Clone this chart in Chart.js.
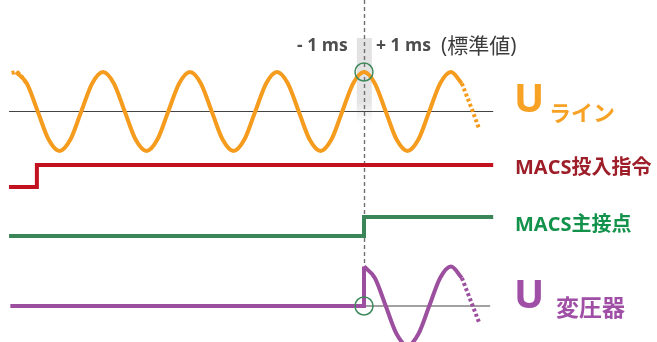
<!DOCTYPE html>
<html><head><meta charset="utf-8">
<script src="https://cdn.jsdelivr.net/npm/chart.js@4"></script>
<style>html,body{margin:0;padding:0;background:#fff;}canvas{display:block}</style>
</head><body>
<canvas id="c" width="657" height="342"></canvas>
<script>
// ---------- DATA (time in ms, 0 = closing instant; amplitudes normalised) ----------
const uLineT = [-80,-77.5,-75,-72.5,-70,-67.5,-65,-62.5,-60,-57.5,-55,-52.5,-50,-47.5,-45,-42.5,-40,-37.5,-35,-32.5,-30,-27.5,-25,-22.5,-20,-17.5,-15,-12.5,-10,-7.5,-5,-2.5,0,2.5,5,7.5,10,12.5,15,17.5,20,22.5];
const uLine  = [1,0.71,0,-0.71,-1,-0.71,0,0.71,1,0.71,0,-0.71,-1,-0.71,0,0.71,1,0.71,0,-0.71,-1,-0.71,0,0.71,1,0.71,0,-0.71,-1,-0.71,0,0.71,1,0.71,0,-0.71,-1,-0.71,0,0.71,1,0.71];
const uLineLeadT = [-81,-80,-77.5];
const uLineLead  = [0.97,1,0.71];
const uLineTailT = [22.5,25,26.5];
const uLineTail  = [0.71,0,-0.45];

const macsCmdT = [-81.6,-75.2,29.7];
const macsCmd  = [0,1,1];
const macsContactT = [-81.6,0,29.7];
const macsContact  = [0,1,1];

const uTrafoIdleT = [-81.3,0];
const uTrafoIdle  = [0,1];
const uTrafoT = [0,2.5,5,7.5,10,12.5,15,17.5,20,22.5];
const uTrafo  = [1,0.71,0,-0.71,-1,-0.71,0,0.71,1,0.71];
const uTrafoTailT = [22.5,25,26.5];
const uTrafoTail  = [0.71,0,-0.43];

const uLineAxisT  = [-81.6,29.7];
const uTrafoAxisT = [0,29];
const markT = [0];
const markLine = [1];
const markTrafo = [0];

const toleranceMs = [-1.65,1.8];
const tickLabels = ['- 1 ms','+ 1 ms','(標準値)'];
const seriesLabels = ['U','ライン','MACS投入指令','MACS主接点','U','変圧器'];

// ---------- LAYOUT ----------
const W = 657, H = 342;
const ZERO_PX = 364, PX_PER_MS = 4.35;
function row(zeroPx, pxPerUnit){
  return {type:'linear', display:false, min: -(H - zeroPx)/pxPerUnit, max: zeroPx/pxPerUnit};
}
function pts(xs, ys){ return xs.map((x,i)=>({x:x, y:ys[i]})); }

const C = {
  orange:'#F59B1E', red:'#C2121F', green:'#3B8658', purple:'#9C4F9F',
  orangeTxt:'#F7A125', redTxt:'#9D1D28', greenTxt:'#12924A', purpleTxt:'#A04FA6',
  grid:'#444444', mark:'#3E8A5C'
};
const FONT = '"Open Sans","Noto Sans CJK JP",sans-serif';

const base = {type:'line', pointRadius:0, borderWidth:4, fill:false, borderCapStyle:'butt', borderJoinStyle:'miter'};

const datasets = [
  {...base, data: pts(markT, markLine), yAxisID:'yU', showLine:false, pointRadius:9, pointBorderWidth:1.5,
    pointBorderColor:C.mark, pointBackgroundColor:'rgba(0,0,0,0)'},
  {...base, data: pts(markT, markTrafo), yAxisID:'yT', showLine:false, pointRadius:9, pointBorderWidth:1.5,
    pointBorderColor:C.mark, pointBackgroundColor:'rgba(0,0,0,0)'},
  {...base, data: pts(uLineT, uLine), yAxisID:'yU', borderColor:C.orange, cubicInterpolationMode:'monotone'},
  {...base, data: pts(uLineLeadT, uLineLead), yAxisID:'yU', borderColor:C.orange, cubicInterpolationMode:'monotone', borderDash:[3,2.5]},
  {...base, data: pts(uLineTailT, uLineTail), yAxisID:'yU', borderColor:C.orange, cubicInterpolationMode:'monotone', borderDash:[3,2.5]},
  {...base, data: pts(macsCmdT, macsCmd), yAxisID:'yCmd', borderColor:C.red, stepped:'before'},
  {...base, data: pts(macsContactT, macsContact), yAxisID:'yCon', borderColor:C.green, stepped:'before'},
  {...base, data: pts(uTrafoIdleT, uTrafoIdle), yAxisID:'yT', borderColor:C.purple, stepped:'before'},
  {...base, data: pts(uTrafoT, uTrafo), yAxisID:'yT', borderColor:C.purple, cubicInterpolationMode:'monotone'},
  {...base, data: pts(uTrafoTailT, uTrafoTail), yAxisID:'yT', borderColor:C.purple, cubicInterpolationMode:'monotone', borderDash:[3,2.5]},
  {...base, data: pts(uLineAxisT, [0,0]), yAxisID:'yU', borderColor:C.grid, borderWidth:1.2},
  {...base, data: pts(uTrafoAxisT, [0,0]), yAxisID:'yT', borderColor:C.grid, borderWidth:1.2}
];

const decor = {
  id:'decor',
  beforeDatasetsDraw(chart){
    const ctx = chart.ctx, xs = chart.scales.x;
    const x0 = xs.getPixelForValue(toleranceMs[0]), x1 = xs.getPixelForValue(toleranceMs[1]);
    const top = 38, bot = 123;
    const g = ctx.createLinearGradient(0, top, 0, bot);
    g.addColorStop(0, '#e2e2e2'); g.addColorStop(0.75, '#e4e4e4'); g.addColorStop(1, 'rgba(230,230,230,0)');
    ctx.save();
    ctx.fillStyle = g; ctx.fillRect(x0, top, x1 - x0, bot - top);
    const xc = Math.round(xs.getPixelForValue(0)) + 0.5;
    ctx.strokeStyle = '#707070'; ctx.lineWidth = 1.4; ctx.setLineDash([4,3]);
    ctx.beginPath(); ctx.moveTo(xc, 0); ctx.lineTo(xc, chart.scales.yT.getPixelForValue(0)); ctx.stroke();
    ctx.restore();
  },
  afterDatasetsDraw(chart){
    const ctx = chart.ctx;
    ctx.save();
    ctx.textBaseline = 'alphabetic'; ctx.textAlign = 'left';
    const items = [
      [tickLabels[0], 297, 51, 'bold 17.5px', '#4d4d4d'],
      [tickLabels[1], 376, 51, 'bold 17.5px', '#4d4d4d'],
      [tickLabels[2], 441, 53, '21px', '#3c3c3c'],
      [seriesLabels[0], 514, 112, 'bold 40px', C.orangeTxt],
      [seriesLabels[1], 549, 121, 'bold 22px', C.orangeTxt],
      [seriesLabels[2], 515, 174, 'bold 20px', C.redTxt],
      [seriesLabels[3], 515, 231, 'bold 20px', C.greenTxt],
      [seriesLabels[4], 514, 308, 'bold 40px', C.purpleTxt],
      [seriesLabels[5], 556, 316, 'bold 23px', C.purpleTxt]
    ];
    for (const [t,x,y,f,c] of items){ ctx.font = f + ' ' + FONT; ctx.fillStyle = c; ctx.fillText(t, x, y); }
    ctx.restore();
  }
};

new Chart(document.getElementById('c'), {
  type:'line',
  data:{datasets},
  options:{
    responsive:false, animation:false, events:[],
    layout:{padding:0, autoPadding:false},
    plugins:{legend:{display:false}, tooltip:{enabled:false}},
    scales:{
      x:{type:'linear', display:false, min:-ZERO_PX/PX_PER_MS, max:(W-ZERO_PX)/PX_PER_MS},
      yU: row(111.5, 39.5),
      yCmd: row(187, 22),
      yCon: row(236, 19),
      yT: row(306, 39.5)
    }
  },
  plugins:[decor]
});
</script>
</body></html>
